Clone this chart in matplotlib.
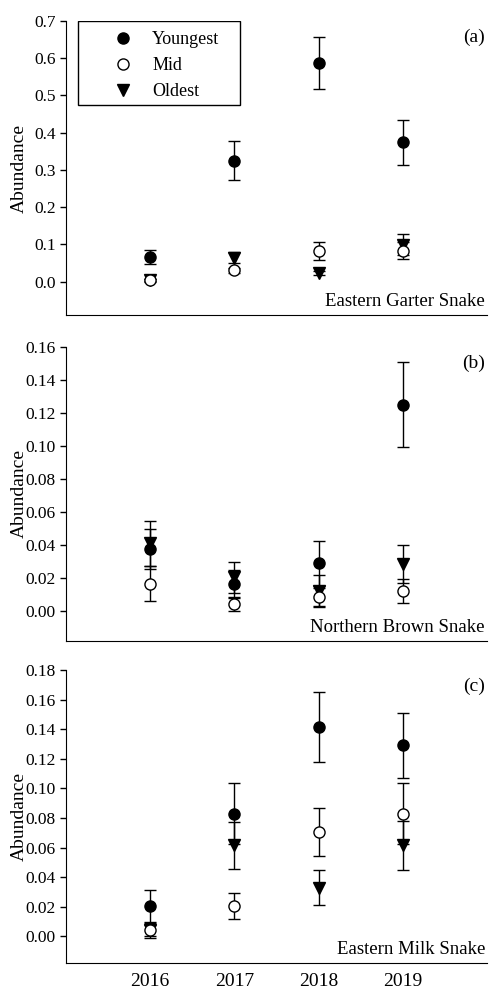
import matplotlib.pyplot as plt
from matplotlib.patches import Rectangle
import numpy as np

plt.rcParams["font.family"] = ["Liberation Serif", "DejaVu Serif"]
plt.rcParams["font.size"] = 12

years = [2016, 2017, 2018, 2019]
series_names = ["Youngest", "Mid", "Oldest"]

# panel (a) Eastern Garter Snake
garter_young = [0.066, 0.325, 0.587, 0.374]
garter_young_err = [0.020, 0.053, 0.070, 0.061]
garter_mid = [0.004, 0.030, 0.083, 0.083]
garter_mid_err = [0.004, 0.006, 0.024, 0.022]
garter_old = [0.004, 0.064, 0.023, 0.099]
garter_old_err = [0.003, 0.014, 0.006, 0.028]

# panel (b) Northern Brown Snake
brown_young = [0.0375, 0.0165, 0.029, 0.125]
brown_young_err = [0.012, 0.0085, 0.0135, 0.0257]
brown_mid = [0.0167, 0.0042, 0.0085, 0.0125]
brown_mid_err = [0.0104, 0.0042, 0.0058, 0.0073]
brown_old = [0.041, 0.0205, 0.0125, 0.0285]
brown_old_err = [0.0135, 0.0095, 0.0095, 0.0115]

# panel (c) Eastern Milk Snake
milk_young = [0.0205, 0.083, 0.1415, 0.129]
milk_young_err = [0.011, 0.0207, 0.0235, 0.022]
milk_mid = [0.004, 0.0205, 0.0705, 0.083]
milk_mid_err = [0.005, 0.009, 0.0165, 0.0207]
milk_old = [0.004, 0.0615, 0.0328, 0.0615]
milk_old_err = [0.004, 0.0158, 0.0118, 0.0165]

panels = [
    ("(a)", "Eastern Garter Snake", (garter_young, garter_mid, garter_old),
     (garter_young_err, garter_mid_err, garter_old_err), (-0.09, 0.7), np.arange(0, 0.71, 0.1), "{:.1f}"),
    ("(b)", "Northern Brown Snake", (brown_young, brown_mid, brown_old),
     (brown_young_err, brown_mid_err, brown_old_err), (-0.018, 0.16), np.arange(0, 0.161, 0.02), "{:.2f}"),
    ("(c)", "Eastern Milk Snake", (milk_young, milk_mid, milk_old),
     (milk_young_err, milk_mid_err, milk_old_err), (-0.018, 0.18), np.arange(0, 0.181, 0.02), "{:.2f}"),
]

styles = {
    "Youngest": dict(marker="o", mfc="black", mec="black"),
    "Mid": dict(marker="o", mfc="white", mec="black"),
    "Oldest": dict(marker="v", mfc="black", mec="black"),
}
z = {"Oldest": 2, "Youngest": 3, "Mid": 4}

fig = plt.figure(figsize=(4.9, 9.9), dpi=100)
boxes = [(0.6818, 0.9788), (0.3525, 0.6498), (0.0273, 0.3232)]
left, right = 0.1347, 0.994

for i, (tag, title, vals, errs, ylim, yticks, fmt) in enumerate(panels):
    b, t = boxes[i]
    ax = fig.add_axes([left, b, right - left, t - b])
    handles = []
    for name, v, e in zip(series_names, vals, errs):
        ax.errorbar(years, v, yerr=e, fmt="none", ecolor="black",
                    elinewidth=1, capsize=4, capthick=1, zorder=z[name])
        m, = ax.plot(years, v, linestyle="none", markersize=8, mew=1,
                     zorder=z[name] + 0.5, label=name, **styles[name])
        handles.append(m)
    ax.set_xlim(2015, 2020)
    ax.set_ylim(*ylim)
    ax.set_yticks(yticks)
    ax.set_yticklabels([fmt.format(y) for y in yticks], fontsize=12.5)
    ax.spines["top"].set_visible(False)
    ax.spines["right"].set_visible(False)
    ax.spines["left"].set_bounds(ylim[0], yticks[-1])
    ax.tick_params(axis="y", direction="out", length=4, width=1)
    ax.tick_params(axis="x", length=0)
    ax.set_xticks(years)
    if i < 2:
        ax.set_xticklabels([])
    else:
        ax.set_xticklabels([str(y) for y in years], fontsize=14)
        ax.tick_params(axis="x", pad=7)
    ax.set_ylabel("Abundance", fontsize=14)
    ax.yaxis.set_label_coords(-0.09, 0.5)
    ax.text(0.995, 0.945, tag, transform=ax.transAxes, ha="right", va="center", fontsize=14)
    ax.text(0.995, 0.045, title, transform=ax.transAxes, ha="right", va="center", fontsize=13.5)
    if i == 0:
        ax.add_patch(Rectangle((0.0285, 0.714), 0.385, 0.286, transform=ax.transAxes,
                               fill=False, edgecolor="black", linewidth=1, zorder=6))
        ax.legend(handles=handles, loc="upper left", bbox_to_anchor=(0.096, 0.966),
                  frameon=False, handletextpad=0.69, borderpad=0, labelspacing=0.5,
                  borderaxespad=0, fontsize=13, handlelength=1.85)

fig.savefig("out.png", dpi=100)
